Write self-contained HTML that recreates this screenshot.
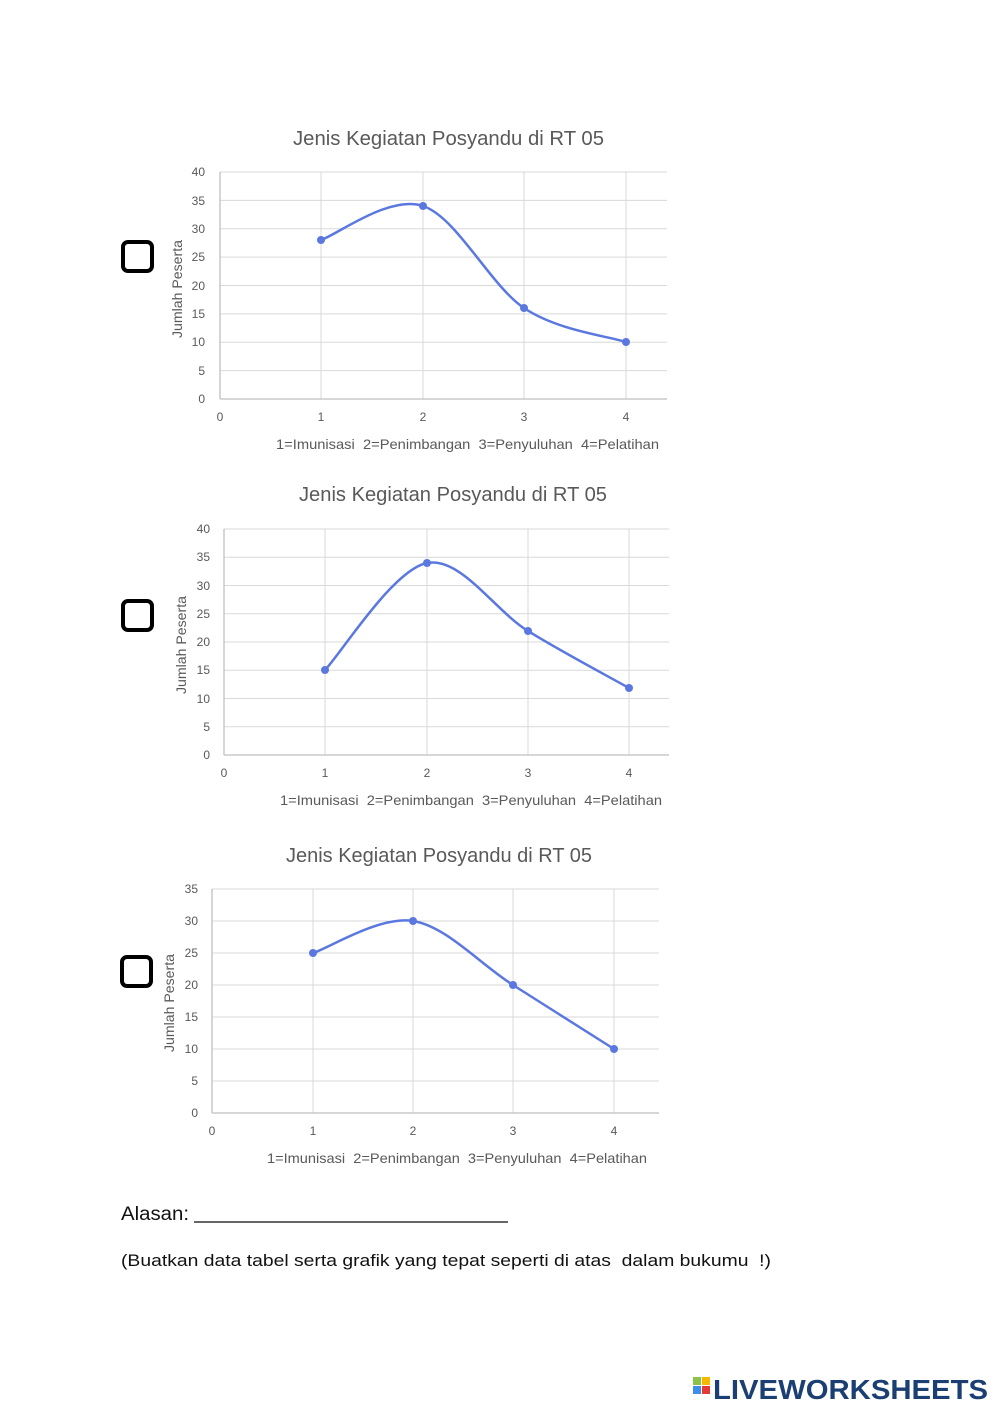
<!DOCTYPE html>
<html><head><meta charset="utf-8"><style>
html,body{margin:0;padding:0;background:#fff;}
svg{display:block;}
text{font-family:"Liberation Sans",sans-serif;}
</style></head><body>
<svg width="1000" height="1414" viewBox="0 0 1000 1414" xmlns="http://www.w3.org/2000/svg">
<rect width="1000" height="1414" fill="#fff"/>

<!-- Chart 1 -->
<g stroke="#d9d9d9" stroke-width="1">
<line x1="220" y1="172" x2="667" y2="172"/><line x1="220" y1="200.4" x2="667" y2="200.4"/><line x1="220" y1="228.8" x2="667" y2="228.8"/><line x1="220" y1="257.1" x2="667" y2="257.1"/><line x1="220" y1="285.5" x2="667" y2="285.5"/><line x1="220" y1="313.9" x2="667" y2="313.9"/><line x1="220" y1="342.3" x2="667" y2="342.3"/><line x1="220" y1="370.6" x2="667" y2="370.6"/>
<line x1="321" y1="172" x2="321" y2="399"/><line x1="423" y1="172" x2="423" y2="399"/><line x1="524" y1="172" x2="524" y2="399"/><line x1="626" y1="172" x2="626" y2="399"/>
</g>
<g stroke="#bfbfbf" stroke-width="1.3"><line x1="220" y1="172" x2="220" y2="399"/><line x1="220" y1="399" x2="667" y2="399"/></g>
<g fill="#595959" font-size="12" text-anchor="end">
<text x="205" y="176">40</text><text x="205" y="205">35</text><text x="205" y="233">30</text><text x="205" y="261">25</text><text x="205" y="290">20</text><text x="205" y="318">15</text><text x="205" y="346">10</text><text x="205" y="375">5</text><text x="205" y="403">0</text>
</g>
<g fill="#595959" font-size="12" text-anchor="middle">
<text x="220" y="421">0</text><text x="321" y="421">1</text><text x="423" y="421">2</text><text x="524" y="421">3</text><text x="626" y="421">4</text>
</g>
<text x="293" y="145" font-size="20" fill="#595959" textLength="311" lengthAdjust="spacingAndGlyphs">Jenis Kegiatan Posyandu di RT 05</text>
<text x="276" y="449" font-size="14" fill="#595959" textLength="383" lengthAdjust="spacingAndGlyphs" xml:space="preserve">1=Imunisasi  2=Penimbangan  3=Penyuluhan  4=Pelatihan</text>
<text transform="translate(182,289) rotate(-90)" font-size="14" fill="#595959" text-anchor="middle" textLength="98" lengthAdjust="spacingAndGlyphs">Jumlah Peserta</text>
<path d="M321,240 C338,234.3 389.2,194.7 423,206 C456.8,217.3 490.2,285.3 524,308 C557.8,330.7 609,336.3 626,342" fill="none" stroke="#5b78e0" stroke-width="2.5"/>
<g fill="#5b78e0"><circle cx="321" cy="240" r="4"/><circle cx="423" cy="206" r="4"/><circle cx="524" cy="308" r="4"/><circle cx="626" cy="342" r="4"/></g>
<rect x="123" y="242" width="29" height="29" rx="5" fill="none" stroke="#000" stroke-width="4"/>

<!-- Chart 2 -->
<g stroke="#d9d9d9" stroke-width="1">
<line x1="224" y1="529" x2="669" y2="529"/><line x1="224" y1="557.3" x2="669" y2="557.3"/><line x1="224" y1="585.5" x2="669" y2="585.5"/><line x1="224" y1="613.8" x2="669" y2="613.8"/><line x1="224" y1="642" x2="669" y2="642"/><line x1="224" y1="670.3" x2="669" y2="670.3"/><line x1="224" y1="698.5" x2="669" y2="698.5"/><line x1="224" y1="726.8" x2="669" y2="726.8"/>
<line x1="325" y1="529" x2="325" y2="755"/><line x1="427" y1="529" x2="427" y2="755"/><line x1="528" y1="529" x2="528" y2="755"/><line x1="629" y1="529" x2="629" y2="755"/>
</g>
<g stroke="#bfbfbf" stroke-width="1.3"><line x1="224" y1="529" x2="224" y2="755"/><line x1="224" y1="755" x2="669" y2="755"/></g>
<g fill="#595959" font-size="12" text-anchor="end">
<text x="210" y="533">40</text><text x="210" y="561">35</text><text x="210" y="590">30</text><text x="210" y="618">25</text><text x="210" y="646">20</text><text x="210" y="674">15</text><text x="210" y="703">10</text><text x="210" y="731">5</text><text x="210" y="759">0</text>
</g>
<g fill="#595959" font-size="12" text-anchor="middle">
<text x="224" y="777">0</text><text x="325" y="777">1</text><text x="427" y="777">2</text><text x="528" y="777">3</text><text x="629" y="777">4</text>
</g>
<text x="299" y="501" font-size="20" fill="#595959" textLength="308" lengthAdjust="spacingAndGlyphs">Jenis Kegiatan Posyandu di RT 05</text>
<text x="280" y="805" font-size="14" fill="#595959" textLength="382" lengthAdjust="spacingAndGlyphs" xml:space="preserve">1=Imunisasi  2=Penimbangan  3=Penyuluhan  4=Pelatihan</text>
<text transform="translate(186,645) rotate(-90)" font-size="14" fill="#595959" text-anchor="middle" textLength="98" lengthAdjust="spacingAndGlyphs">Jumlah Peserta</text>
<path d="M325,670 C342,652.2 393.2,569.5 427,563 C460.8,556.5 494.3,610.2 528,631 C561.7,651.8 612.2,678.5 629,688" fill="none" stroke="#5b78e0" stroke-width="2.5"/>
<g fill="#5b78e0"><circle cx="325" cy="670" r="4"/><circle cx="427" cy="563" r="4"/><circle cx="528" cy="631" r="4"/><circle cx="629" cy="688" r="4"/></g>
<rect x="123" y="601" width="29" height="29" rx="5" fill="none" stroke="#000" stroke-width="4"/>

<!-- Chart 3 -->
<g stroke="#d9d9d9" stroke-width="1">
<line x1="212" y1="889" x2="659" y2="889"/><line x1="212" y1="921" x2="659" y2="921"/><line x1="212" y1="953" x2="659" y2="953"/><line x1="212" y1="985" x2="659" y2="985"/><line x1="212" y1="1017" x2="659" y2="1017"/><line x1="212" y1="1049" x2="659" y2="1049"/><line x1="212" y1="1081" x2="659" y2="1081"/>
<line x1="313" y1="889" x2="313" y2="1113"/><line x1="413" y1="889" x2="413" y2="1113"/><line x1="513" y1="889" x2="513" y2="1113"/><line x1="614" y1="889" x2="614" y2="1113"/>
</g>
<g stroke="#bfbfbf" stroke-width="1.3"><line x1="212" y1="889" x2="212" y2="1113"/><line x1="212" y1="1113" x2="659" y2="1113"/></g>
<g fill="#595959" font-size="12" text-anchor="end">
<text x="198" y="893">35</text><text x="198" y="925">30</text><text x="198" y="957">25</text><text x="198" y="989">20</text><text x="198" y="1021">15</text><text x="198" y="1053">10</text><text x="198" y="1085">5</text><text x="198" y="1117">0</text>
</g>
<g fill="#595959" font-size="12" text-anchor="middle">
<text x="212" y="1135">0</text><text x="313" y="1135">1</text><text x="413" y="1135">2</text><text x="513" y="1135">3</text><text x="614" y="1135">4</text>
</g>
<text x="286" y="862" font-size="20" fill="#595959" textLength="306" lengthAdjust="spacingAndGlyphs">Jenis Kegiatan Posyandu di RT 05</text>
<text x="267" y="1163" font-size="14" fill="#595959" textLength="380" lengthAdjust="spacingAndGlyphs" xml:space="preserve">1=Imunisasi  2=Penimbangan  3=Penyuluhan  4=Pelatihan</text>
<text transform="translate(174,1003) rotate(-90)" font-size="14" fill="#595959" text-anchor="middle" textLength="98" lengthAdjust="spacingAndGlyphs">Jumlah Peserta</text>
<path d="M313,953 C329.7,947.7 379.7,915.7 413,921 C446.3,926.3 479.5,963.7 513,985 C546.5,1006.3 597.2,1038.3 614,1049" fill="none" stroke="#5b78e0" stroke-width="2.5"/>
<g fill="#5b78e0"><circle cx="313" cy="953" r="4"/><circle cx="413" cy="921" r="4"/><circle cx="513" cy="985" r="4"/><circle cx="614" cy="1049" r="4"/></g>
<rect x="122" y="957" width="29" height="29" rx="5" fill="none" stroke="#000" stroke-width="4"/>

<!-- Bottom text -->
<text x="121" y="1220" font-size="19" fill="#111" textLength="68" lengthAdjust="spacingAndGlyphs">Alasan:</text>
<line x1="194" y1="1222" x2="508" y2="1222" stroke="#333" stroke-width="1.5"/>
<text x="121" y="1266" font-size="17" fill="#111" textLength="650" lengthAdjust="spacingAndGlyphs" xml:space="preserve">(Buatkan data tabel serta grafik yang tepat seperti di atas  dalam bukumu  !)</text>

<!-- Logo -->
<rect x="693" y="1377" width="8" height="8" fill="#8bc34a"/>
<rect x="702" y="1377" width="8" height="8" fill="#f5b800"/>
<rect x="693" y="1386" width="8" height="8" fill="#3d8ee8"/>
<rect x="702" y="1386" width="8" height="8" fill="#e53935"/>
<text x="713" y="1399" font-size="28" font-weight="bold" fill="#1b3f73" textLength="275" lengthAdjust="spacingAndGlyphs">LIVEWORKSHEETS</text>
</svg>
</body></html>
